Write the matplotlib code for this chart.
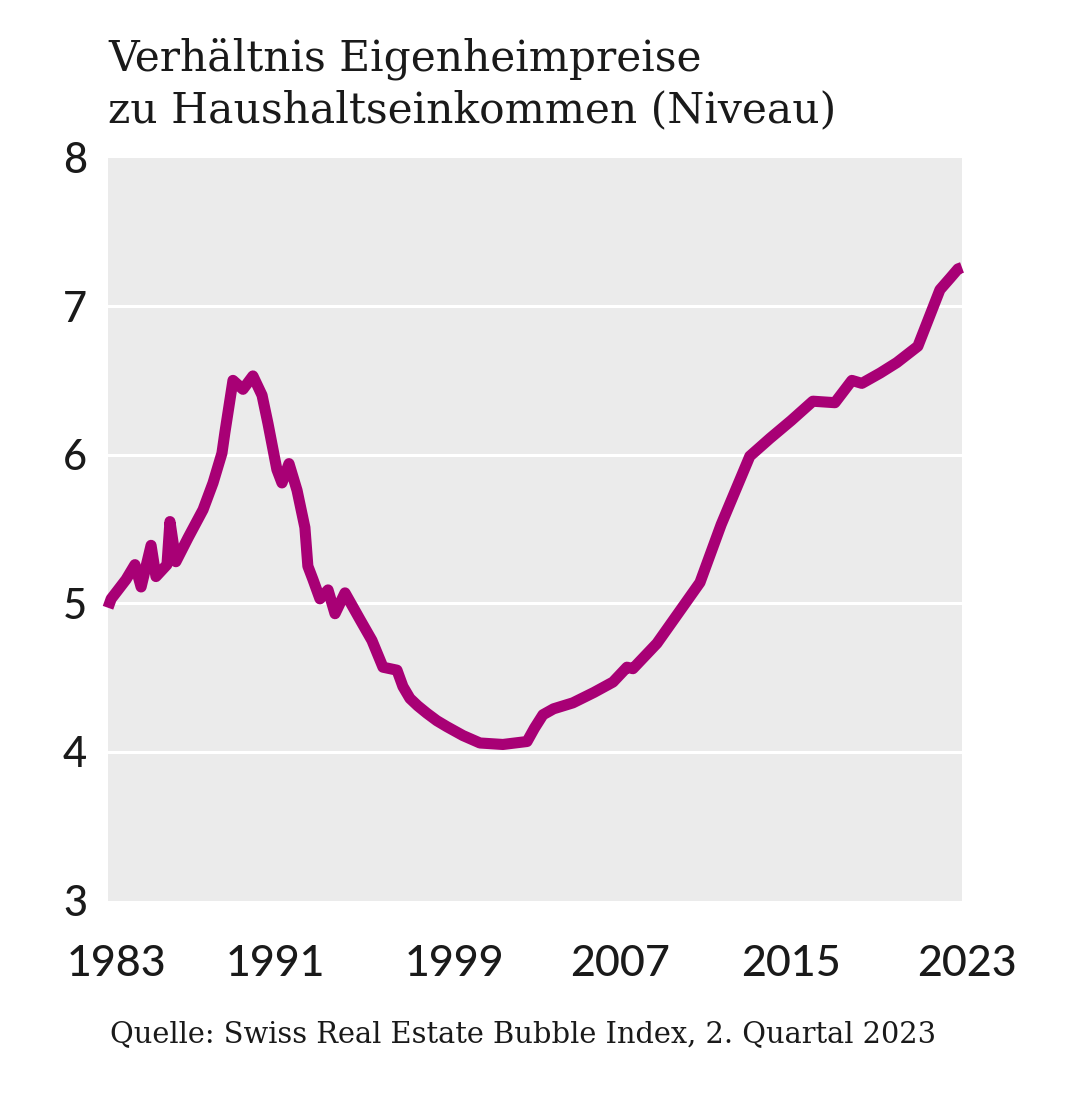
import matplotlib
matplotlib.use("Agg")
import matplotlib.pyplot as plt
import matplotlib.transforms as mtransforms

# ---- data ----
years = [1983.00, 1983.15, 1983.42, 1983.85, 1984.27, 1984.56, 1985.03, 1985.26,
         1985.78, 1985.92,
         1986.20, 1986.77, 1987.48, 1987.95, 1988.37, 1988.51, 1988.89, 1989.36,
         1989.83, 1990.26, 1990.54, 1990.96, 1991.20, 1991.53, 1991.91, 1992.28,
         1992.42, 1992.66, 1992.99, 1993.37, 1993.70, 1994.17, 1994.88, 1995.44,
         1995.96, 1996.62, 1996.90, 1997.23, 1997.60, 1998.03, 1998.50, 1998.97,
         1999.73, 2000.53, 2001.61, 2002.75, 2003.10, 2003.50, 2004.00, 2004.91,
         2005.90, 2006.80, 2007.46, 2007.74, 2008.87, 2010.90, 2011.90,
         2013.25, 2014.20, 2015.20, 2016.22, 2017.26, 2018.06, 2018.53, 2019.40,
         2020.18, 2021.17, 2022.21, 2022.70, 2023.06, 2023.25]
ratio = [4.97, 5.03, 5.08, 5.16, 5.26, 5.11, 5.39, 5.18,
         5.26, 5.55,
         5.28, 5.44, 5.63, 5.81, 6.01, 6.15, 6.50, 6.44,
         6.53, 6.40, 6.21, 5.90, 5.81, 5.94, 5.76, 5.51,
         5.25, 5.16, 5.03, 5.09, 4.93, 5.07, 4.89, 4.75,
         4.57, 4.55, 4.44, 4.36, 4.31, 4.26, 4.21, 4.17,
         4.11, 4.06, 4.05, 4.07, 4.16, 4.25, 4.29, 4.33,
         4.40, 4.47, 4.57, 4.56, 4.73, 5.14, 5.53,
         5.99, 6.11, 6.23, 6.36, 6.35, 6.50, 6.48, 6.55,
         6.62, 6.73, 7.11, 7.19, 7.25, 7.26]

year_labels = ["1983", "1991", "1999", "2007", "2015", "2023"]
y_ticks = [3, 4, 5, 6, 7, 8]

title_lines = ["Verhältnis Eigenheimpreise", "zu Haushaltseinkommen (Niveau)"]
source = "Quelle: Swiss Real Estate Bubble Index, 2. Quartal 2023"

# ---- styling ----
W, H = 1079, 1118
fig = plt.figure(figsize=(W / 100, H / 100), dpi=100)
fig.patch.set_facecolor("white")

ax = fig.add_axes([108 / W, (H - 900.5) / H, (962 - 108) / W, (900.5 - 157.5) / H])
ax.set_facecolor("#EBEBEB")
for s in ax.spines.values():
    s.set_visible(False)

ax.set_xlim(1983.0, 2023.25)
ax.set_ylim(3, 8)

ax.set_yticks(y_ticks)
ax.set_yticklabels([str(v) for v in y_ticks])
ax.tick_params(axis="y", length=0, pad=15, labelsize=30, labelcolor="#1a1a1a")
for lab in ax.get_yticklabels():
    lab.set_family("Lato")
    lab.set_fontweight("medium")
ax.set_xticks([])

for v in [4, 5, 6, 7]:
    ax.axhline(v, color="white", lw=2.2, zorder=1)

ax.plot(years, ratio, color="#A80075", lw=8, solid_joinstyle="round",
        solid_capstyle="butt", zorder=3, clip_on=False)

# x labels (positions in data coords, as in the reference layout)
label_pos = [1983.4, 1990.9, 1999.35, 2007.15, 2015.2, 2023.5]
trans = mtransforms.blended_transform_factory(ax.transData, fig.transFigure)
for x, t in zip(label_pos, year_labels):
    ax.text(x, (H - 964) / H, t, transform=trans, ha="center", va="center",
            fontsize=31, family="Lato", fontweight="medium", color="#1a1a1a",
            clip_on=False)

fig.text(108 / W, (H - 70) / H, title_lines[0], ha="left", va="baseline",
         fontsize=30.5, family="DejaVu Serif", color="#1a1a1a")
fig.text(108 / W, (H - 122) / H, title_lines[1], ha="left", va="baseline",
         fontsize=30.5, family="DejaVu Serif", color="#1a1a1a")
fig.text(110 / W, (H - 1042) / H, source, ha="left", va="baseline",
         fontsize=20.8, family="DejaVu Serif", color="#1a1a1a")

fig.savefig("out.png", dpi=100, facecolor="white")
